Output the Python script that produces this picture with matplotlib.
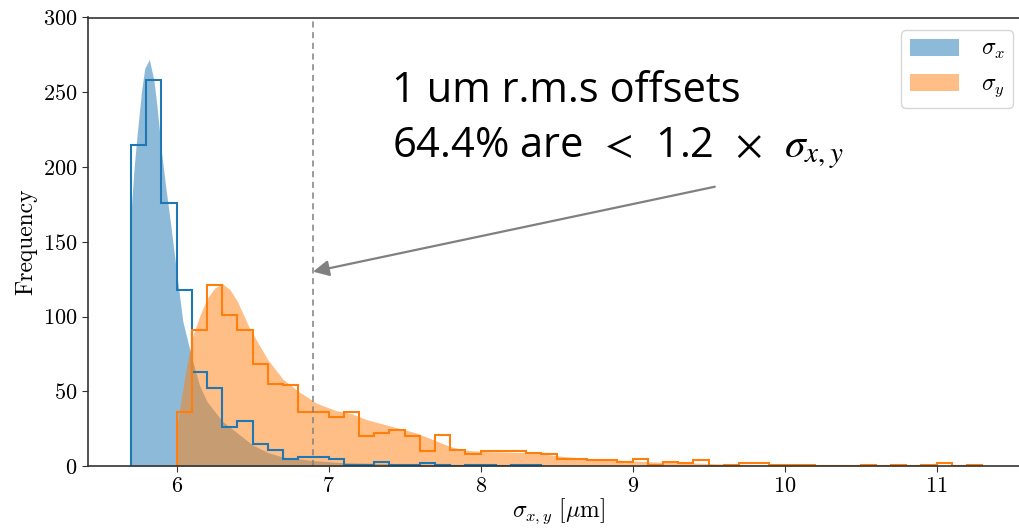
import matplotlib
matplotlib.use("Agg")
import matplotlib.pyplot as plt
import numpy as np

# histogram counts (bin width 0.1 um)
sx_edges_start = 5.7
sx_counts = [215, 258, 176, 118, 63, 52, 26, 30, 15, 11, 5, 6, 6, 5,
             1, 1, 3, 1, 1, 2, 1, 0, 1, 1, 0, 1, 1]
sy_edges_start = 6.0
sy_counts = [36, 91, 121, 101, 91, 68, 55, 54, 36, 36, 33, 36, 20, 22,
             24, 20, 10, 21, 11, 8, 10, 10, 10, 9, 8, 5, 5, 4, 4, 3,
             5, 1, 3, 2, 4, 0, 1, 2, 2, 1, 1, 1, 0, 0, 0, 1, 0, 1, 0,
             1, 2, 0, 1]

# smooth density outlines (scaled to counts)
kde_x_sx = [5.70, 5.72, 5.74, 5.77, 5.79, 5.82, 5.85, 5.87, 5.90, 5.93,
            5.96, 6.00, 6.04, 6.10, 6.15, 6.20, 6.30, 6.40, 6.50, 6.60,
            6.70, 6.90, 7.10, 7.40, 7.70, 8.00, 8.40]
kde_y_sx = [170, 200, 222, 252, 266, 272, 258, 241, 210, 185,
            162, 129, 97, 72, 54, 43, 30, 22, 14, 9,
            6, 3.6, 2.2, 1.5, 1.0, 0.7, 0.4]
kde_x_sy = [6.00, 6.03, 6.06, 6.10, 6.15, 6.20, 6.25, 6.30, 6.35, 6.40,
            6.48, 6.60, 6.70, 6.80, 6.92, 7.05, 7.15, 7.25, 7.36, 7.47,
            7.58, 7.69, 7.80, 7.90, 8.03, 8.20, 8.34, 8.45, 8.56, 8.78,
            8.90, 9.00, 9.20, 9.40, 9.60, 9.80, 10.00, 10.50, 11.00, 11.30]
kde_y_sy = [25, 45, 64, 85, 100, 112, 119, 122, 118, 110,
            92, 71, 58, 50, 42, 37, 35, 31, 28, 25,
            22, 17.5, 13, 10.5, 9.6, 9.2, 8.8, 7.5, 6.2, 4.5,
            4, 3.3, 2.5, 2, 1.4, 1.0, 0.7, 0.4, 0.3, 0.2]

cut_line = 6.9

plt.rcParams['font.family'] = 'serif'
plt.rcParams['font.serif'] = ['cmr10']
plt.rcParams['mathtext.fontset'] = 'cm'
plt.rcParams['axes.formatter.use_mathtext'] = True

blue = '#1f77b4'
orange = '#ff7f0e'

fig = plt.figure(figsize=(10.2, 5.29), dpi=100)
ax = fig.add_axes([88 / 1020, 1 - 466 / 529, (1030 - 88) / 1020, (466 - 17.5) / 529])

ax.fill_between(kde_x_sx, kde_y_sx, color=blue, alpha=0.5, lw=0, label=r'$\sigma_x$')
ax.fill_between(kde_x_sy, kde_y_sy, color=orange, alpha=0.5, lw=0, label=r'$\sigma_y$')

edges_x = sx_edges_start + 0.1 * np.arange(len(sx_counts) + 1)
edges_y = sy_edges_start + 0.1 * np.arange(len(sy_counts) + 1)
ax.stairs(sx_counts, edges_x, color=blue, lw=1.5)
ax.stairs(sy_counts, edges_y, color=orange, lw=1.5)

ax.axvline(cut_line, color='#808080', ls=(0, (4, 3)), lw=1.1)

ax.set_xlim(5.4165, 11.614)
ax.set_ylim(0, 300)
ax.set_xticks([6, 7, 8, 9, 10, 11])
ax.set_yticks([0, 50, 100, 150, 200, 250, 300])
ax.tick_params(labelsize=16, length=4, color='#333333')
for s in ax.spines.values():
    s.set_color('#333333')
    s.set_linewidth(1.2)
ax.set_ylabel('Frequency', fontsize=17)
ax.set_xlabel(r'$\sigma_{x,y}\ [\mu\mathrm{m}]$', fontsize=17, labelpad=0)

fig.legend(loc='upper right', bbox_to_anchor=(1013 / 1020, 1 - 30 / 529),
           bbox_transform=fig.transFigure, borderaxespad=0, fontsize=17,
           handlelength=2.1, handleheight=0.72, labelspacing=0.5,
           handletextpad=0.9, borderpad=0.35)

ax.text(7.416, 243.7, '1 um r.m.s offsets', fontsize=30, family='Open Sans',
        va='baseline', ha='left')
ax.text(7.416, 206.2, r'64.4% are $\,<\,$ 1.2 $\,\times\,$ $\sigma_{x,y}$', fontsize=30,
        family='Open Sans', va='baseline', ha='left', math_fontfamily='stix')
ax.annotate('', xy=(6.897, 130), xytext=(9.54, 186.8),
            arrowprops=dict(arrowstyle='-|>', color='#808080', lw=1.6,
                            mutation_scale=24, shrinkA=0, shrinkB=0))

fig.savefig('out.png', dpi=100)
